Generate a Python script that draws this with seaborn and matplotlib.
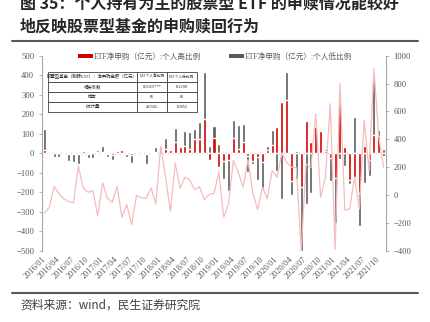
import numpy as np
import pandas as pd
import matplotlib
matplotlib.use("Agg")
import matplotlib.pyplot as plt
import seaborn as sns
from matplotlib.patches import Patch
from matplotlib.lines import Line2D

# ---------------- data ----------------
months = [f"{y}/{m:02d}" for y in range(2016, 2022) for m in range(1, 13)][:71]  # 2016/01 .. 2021/11

etf_high = [17, 5, 5, 5, 3, -3, -3, -5, 10, -3, 5, 8, 8, -3, -8, 12, 17, -5, -8, 3,
            8, -5, 3, 5, 30, 20, 15, 60, 32, 38, 22, 72, 72, 174, -34, 77, -73, -38, -34, 77,
            20, 60, -14, -39, -20, -44, 17, 44, 132, 262, 273, -142, 14, -171, 166, 60, 133, 115, 14, -26,
            -125, 251, 31, -137, -120, -205, 38, -34, 91, 89, -14]

etf_low = [125, 12, -20, -20, 5, -40, -45, -55, 17, -22, -25, 15, 35, -20, -37, 15, 12, -20, -51, 5,
           10, -56, 5, 30, 10, 80, 12, 128, -5, 116, 110, 126, 160, 419, 36, 140, 46, -133, -193, 171,
           147, 150, -97, -56, -137, -176, 38, 120, -89, -236, 415, -214, -133, -500, -262, -202, 140, 5, 20, -142,
           -359, -31, -65, -159, 185, -373, -150, -116, 373, 120, 22]

stock_fund = [-130, -88, 63, 9, -27, -47, -56, 207, 52, 20, 32, -148, 88, -23, -52, 63, -160, -68, -214, -4,
              -20, -23, 52, -63, 350, 128, -116, 230, 47, 128, 109, 37, 61, -32, 4, 13, 164, -160, -63, 248,
              164, 56, 253, 20, -104, 56, -27, 176, 128, 301, 236, 200, 196, -400, 224, 196, 584, -16, 130, 656,
              -390, 800, -107, -100, 128, -100, 536, 176, 908, 420, 200]

legend_labels = ["ETF净申购（亿元）:个人高比例", "ETF净申购（亿元）:个人低比例"]
table_header = ["股票型基金（剔除ETF）：净申购金额（亿元）", "ETF个人高比例", "ETF个人低比例"]
table_rows = [["相关系数", "0.5025***", "0.1299"],
              ["样本", "66", "66"],
              ["t统计量", "4.6502", "1.0852"]]

title1 = "图 35：个人持有为主的股票型 ETF 的申赎情况能较好"
title2 = "地反映股票型基金的申购赎回行为"
source = "资料来源：wind，民生证券研究院"

# ---------------- style ----------------
sns.set_theme(style="white")
plt.rcParams['font.family'] = ['Liberation Serif', 'Noto Sans CJK SC', 'DejaVu Sans']
RED = "#D40000"
GRAY = "#595959"
PINK = "#F4BCBC"
AX = "#A6A6A6"
TXT = "#595959"

df = pd.DataFrame({"month": months, "high": etf_high, "low": etf_low, "stock": stock_fund})
df["pos"] = np.arange(len(df))

fig = plt.figure(figsize=(4.3, 3.22), dpi=100)
ax = fig.add_axes([42 / 430, 1 - 250.8 / 322, 344 / 430, 195.1 / 322])

sns.barplot(data=df, x="month", y="low", ax=ax, color=GRAY, width=0.62, saturation=1, order=months)
sns.barplot(data=df, x="month", y="high", ax=ax, color=RED, width=0.62, saturation=1, order=months)
ax.axhline(0, color="#BFBFBF", lw=0.8, zorder=0.8)

ax.set_ylim(-500, 500)
ax.set_yticks(range(-500, 501, 100))
ax.set_xlim(-0.5, len(months) - 0.5)
ax.set_xticks(range(0, len(months), 3))
ax.set_xticklabels(months[::3], rotation=45, ha="right", va="center", rotation_mode="anchor",
                   fontsize=6, color=TXT)
ax.tick_params(axis="x", length=0, pad=5)
ax.tick_params(axis="y", labelsize=6.2, labelcolor=TXT, length=2.5, width=0.6, color=AX, pad=3, left=True)
ax.set_xlabel("")
ax.set_ylabel("")
for s in ["top", "bottom", "right"]:
    ax.spines[s].set_visible(False)
ax.spines["left"].set_color(AX)
ax.spines["left"].set_linewidth(0.8)

ax2 = ax.twinx()
sns.lineplot(data=df, x="pos", y="stock", ax=ax2, color=PINK, lw=0.9)
ax2.set_ylim(-400, 1000)
ax2.set_yticks(range(-400, 1001, 200))
ax2.set_xlim(-0.5, len(months) - 0.5)
ax2.tick_params(axis="y", labelsize=6.2, labelcolor=TXT, length=2.5, width=0.6, color=AX, pad=3, right=True)
ax2.set_xlabel("")
ax2.set_ylabel("")
for s in ["top", "bottom", "left"]:
    ax2.spines[s].set_visible(False)
ax2.spines["right"].set_color(AX)
ax2.spines["right"].set_linewidth(0.8)

# legend
handles = [Patch(facecolor=RED, edgecolor="none"), Patch(facecolor=GRAY, edgecolor="none")]
leg = ax2.legend(handles, legend_labels, ncol=2, loc="center", bbox_to_anchor=(0.503, 0.995),
                 frameon=False, fontsize=5.5, handlelength=2.0, handleheight=0.5, handletextpad=0.1,
                 columnspacing=3.6, borderpad=0)
for t in leg.get_texts():
    t.set_color(TXT)

# table
tb = ax2.table(cellText=table_rows, colLabels=table_header, cellLoc="center",
               colWidths=[0.597, 0.2, 0.2],
               bbox=[6 / 344, (250.8 - 112) / 195.1, 149 / 344, 40 / 195.1])
tb.auto_set_font_size(False)
tb.set_fontsize(3.2)
for (r, c), cell in tb.get_celld().items():
    cell.set_edgecolor("#404040")
    cell.set_linewidth(0.6)
    cell.set_facecolor("white")
    cell.get_text().set_color("#262626")
    if r == 0 and c > 0:
        cell.get_text().set_fontsize(2.7)
tb.set_zorder(5)

# titles, rules, source
fig.text(20 / 430, 1 - 3.5 / 322, title1, fontsize=11.5, fontweight="bold", color="#262626",
         family=["Noto Sans CJK SC", "DejaVu Sans"], va="center", ha="left")
fig.text(20 / 430, 1 - 26.7 / 322, title2, fontsize=11.5, fontweight="bold", color="#262626",
         family=["Noto Sans CJK SC", "DejaVu Sans"], va="center", ha="left")
fig.add_artist(Line2D([12 / 430, 418 / 430], [1 - 40.5 / 322] * 2, color="#595959", lw=1.5))
fig.add_artist(Line2D([12 / 430, 418 / 430], [1 - 293.3 / 322] * 2, color="#595959", lw=1.5))
fig.text(20 / 430, 1 - 305 / 322, source, fontsize=8.5, color="#404040",
         family=["Noto Sans CJK SC", "DejaVu Sans"], va="center", ha="left")

fig.savefig("out.png", dpi=100)
